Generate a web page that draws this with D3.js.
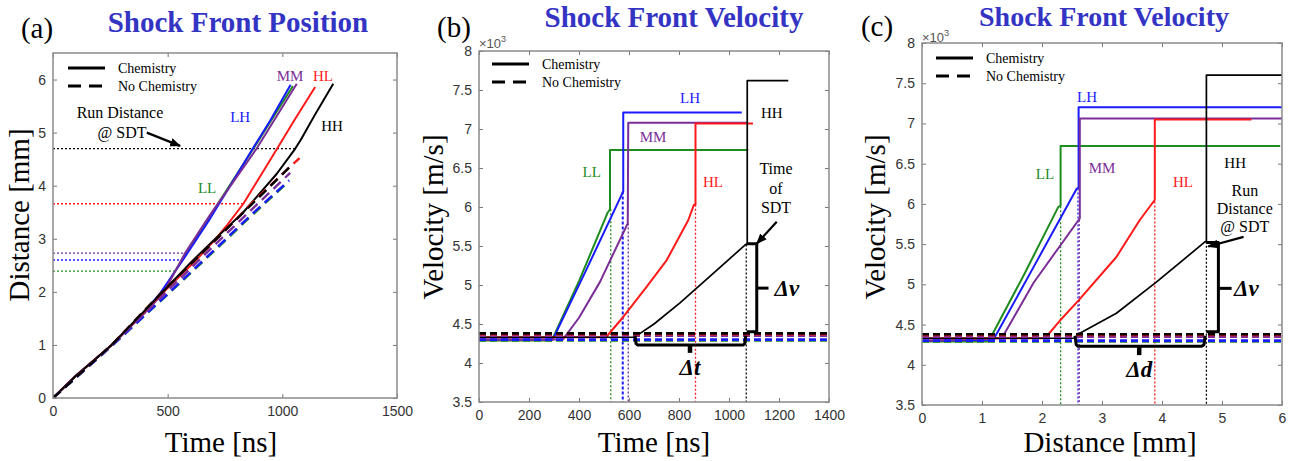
<!DOCTYPE html>
<html>
<head>
<meta charset="utf-8">
<script src="https://cdn.jsdelivr.net/npm/d3@7"></script>
<style>
  body { margin: 0; background: #fff; }
  svg text { font-family: "Liberation Serif", "Times New Roman", serif; }
</style>
</head>
<body>
<svg id="chart" width="1294" height="461"></svg>
<script>
// ---- data ----
const series = ["LL", "LH", "MM", "HL", "HH"];
const seriesColor = ["#1e8c1e", "#1a1aff", "#7b2d96", "#ff1a1a", "#000000"];

// (a) shock front position, [time ns, distance mm]
const posChemLL = [[0,0],[100,0.42],[256,1.0],[400,1.62],[470,1.95],[532,2.39],[600,2.86],[700,3.53],[880,4.74],[1046,5.88]];
const posChemLH = [[0,0],[100,0.42],[256,1.0],[400,1.63],[467,1.97],[568,2.61],[685,3.38],[780,4.05],[874,4.72],[946,5.22],[1036,5.9]];
const posChemMM = [[0,0],[100,0.42],[256,1.0],[400,1.6],[480,1.97],[576,2.73],[685,3.45],[888,4.7],[1063,5.92]];
const posChemHL = [[0,0],[100,0.42],[256,1.0],[490,2.03],[620,2.58],[700,2.95],[760,3.26],[830,3.66],[975,4.68],[1055,5.25],[1143,5.86]];
const posChemHH = [[0,0],[100,0.42],[256,1.0],[490,2.05],[600,2.55],[700,2.97],[830,3.5],[975,4.22],[1055,4.69],[1080,4.86],[1140,5.32],[1222,5.92]];
const posNoChemLL = [[0,0],[256,0.98],[510,1.99],[728,2.87],[859,3.41],[1026,4.07]];
const posNoChemLH = [[0,0],[256,0.98],[510,2.0],[728,2.89],[859,3.43],[1030,4.1]];
const posNoChemMM = [[0,0],[256,0.99],[495,2.0],[728,2.98],[866,3.55],[1034,4.24]];
const posNoChemHL = [[0,0],[256,1.0],[481,2.02],[600,2.52],[728,3.06],[874,3.7],[1034,4.36],[1075,4.52]];
const posNoChemHH = [[0,0],[256,1.0],[481,2.02],[600,2.52],[728,3.06],[874,3.68],[1034,4.36]];
const runDistance = [2.39, 2.60, 2.73, 3.66, 4.70];   // mm
const runDistanceTime = [532, 568, 576, 830, 1055];  // ns, end of dotted line

// (b) shock front velocity vs time, [time ns, velocity x10^3 m/s]
const velTimeLL = [[0,4.29],[291,4.29],[400,5.05],[515,5.93],[524,5.97],[524,6.73],[1077,6.73]];
const velTimeLH = [[0,4.30],[295,4.30],[430,5.2],[577,6.20],[577,7.21],[1051,7.21]];
const velTimeMM = [[0,4.30],[335,4.30],[400,4.58],[484,5.04],[595,5.79],[597,7.08],[1070,7.08]];
const velTimeHL = [[0,4.33],[508,4.33],[577,4.59],[671,4.98],[751,5.32],[837,5.83],[860,6.03],[866,6.03],[866,7.07],[1096,7.07]];
const velTimeHH = [[0,4.33],[624,4.33],[640,4.37],[700,4.5],[804,4.77],[937,5.15],[1067,5.52],[1073,5.53],[1073,7.62],[1237,7.62]];
const sdtTime = [527, 575, 597, 866, 1069];
const sdtTimeVel = [5.97, 6.20, 5.79, 6.03, 5.52];

// (c) shock front velocity vs distance, [distance mm, velocity x10^3 m/s]
const velDistLL = [[0,4.29],[1.11,4.29],[1.7,5.12],[2.27,5.96],[2.31,5.98],[2.31,6.72],[5.97,6.72]];
const velDistLH = [[0,4.30],[1.19,4.31],[1.9,5.27],[2.58,6.19],[2.61,6.2],[2.61,7.20],[6,7.20]];
const velDistMM = [[0,4.30],[1.33,4.33],[1.86,5.02],[2.61,5.80],[2.63,5.82],[2.63,7.06],[6,7.06]];
const velDistHL = [[0,4.33],[2.05,4.33],[2.3,4.55],[2.61,4.8],[3.24,5.34],[3.63,5.8],[3.86,6.03],[3.88,6.05],[3.88,7.05],[5.49,7.05]];
const velDistHH = [[0,4.33],[2.55,4.33],[2.6,4.38],[3.24,4.64],[3.91,5.03],[4.72,5.53],[4.74,5.53],[4.74,7.60],[6,7.60]];
const sdtDist = [2.31, 2.60, 2.62, 3.88, 4.74];
const sdtDistVel = [5.97, 6.19, 5.80, 6.03, 5.53];

// no chemistry: constant velocity
const noChemVel = [4.29, 4.30, 4.35, 4.37, 4.38];

// ticks
const ticksTimeA = [0, 500, 1000, 1500];
const ticksDistA = [0, 1, 2, 3, 4, 5, 6];
const ticksTimeB = [0, 200, 400, 600, 800, 1000, 1200, 1400];
const ticksDistC = [0, 1, 2, 3, 4, 5, 6];
const ticksVel = [3.5, 4, 4.5, 5, 5.5, 6, 6.5, 7, 7.5, 8];

const svg = d3.select("#chart");
const sans = '"Liberation Sans", Arial, sans-serif';
const title = "#3434c4";

function panel(cfg) {
  const x = d3.scaleLinear().domain(cfg.xDomain).range(cfg.xRange);
  const y = d3.scaleLinear().domain(cfg.yDomain).range(cfg.yRange);
  const g = svg.append("g");
  const [l, r] = cfg.xRange, [b, t] = cfg.yRange;
  const fmt = d3.format("~g");

  const axes = [
    [d3.axisBottom(x).tickValues(cfg.xTicks).tickFormat(fmt).tickPadding(8), `translate(0,${b})`],
    [d3.axisTop(x).tickValues(cfg.xTicks).tickFormat(""), `translate(0,${t})`],
    [d3.axisLeft(y).tickValues(cfg.yTicks).tickFormat(fmt).tickPadding(7), `translate(${l},0)`],
    [d3.axisRight(y).tickValues(cfg.yTicks).tickFormat(""), `translate(${r},0)`]
  ];
  axes.forEach(([ax, tr]) => {
    const a = g.append("g").attr("transform", tr)
      .call(ax.tickSize(-4).tickSizeOuter(0));
    a.attr("font-size", null).attr("font-family", null);
    a.select(".domain").remove();
    a.selectAll(".tick line").attr("stroke", "#777").attr("stroke-width", 1);
    a.selectAll(".tick text").style("font-family", sans).style("font-size", "14px").attr("fill", "#333");
  });

  const id = "clip" + cfg.name;
  g.append("clipPath").attr("id", id).append("rect")
    .attr("x", l).attr("y", t).attr("width", r - l).attr("height", b - t);
  const plot = g.append("g").attr("clip-path", `url(#${id})`);
  const over = g.append("g");

  return { g, x, y, plot, over, l, r, t, b };
}

function frame(p) {
  p.g.append("rect").attr("x", p.l).attr("y", p.t)
    .attr("width", p.r - p.l).attr("height", p.b - p.t)
    .attr("fill", "none").attr("stroke", "#8a8a8a").attr("stroke-width", 1.5);
}

function curve(p, data, color, width, dash) {
  const line = d3.line().x(d => p.x(d[0])).y(d => p.y(d[1]));
  p.plot.append("path").datum(data).attr("d", line)
    .attr("fill", "none").attr("stroke", color).attr("stroke-width", width)
    .attr("stroke-dasharray", dash || null).attr("stroke-linejoin", "round");
}

function legend(p, dx, dy) {
  const x0 = p.l + dx, y0 = p.t + dy;
  p.over.append("line").attr("x1", x0).attr("x2", x0 + 37).attr("y1", y0).attr("y2", y0)
    .attr("stroke", "#000").attr("stroke-width", 3);
  p.over.append("line").attr("x1", x0).attr("x2", x0 + 37).attr("y1", y0 + 18).attr("y2", y0 + 18)
    .attr("stroke", "#000").attr("stroke-width", 3).attr("stroke-dasharray", "13,8");
  p.over.append("text").attr("x", x0 + 50).attr("y", y0 + 5).attr("font-size", 14).text("Chemistry");
  p.over.append("text").attr("x", x0 + 50).attr("y", y0 + 23).attr("font-size", 14).text("No Chemistry");
}

function label(p, txt, xv, yv, color, size, anchor) {
  return p.over.append("text").attr("x", p.x(xv)).attr("y", p.y(yv)).attr("dy", "0.35em")
    .attr("text-anchor", anchor || "middle").attr("font-size", size || 15)
    .attr("fill", color || "#000").text(txt);
}

function thick(p, pts, w) {
  const line = d3.line().x(d => p.x(d[0])).y(d => p.y(d[1]));
  p.over.append("path").datum(pts).attr("d", line).attr("fill", "none")
    .attr("stroke", "#000").attr("stroke-width", w).attr("stroke-linejoin", "round");
}

function arrow(p, from, to) {
  p.over.append("line")
    .attr("x1", p.x(from[0])).attr("y1", p.y(from[1]))
    .attr("x2", p.x(to[0])).attr("y2", p.y(to[1]))
    .attr("stroke", "#000").attr("stroke-width", 2.2).attr("marker-end", "url(#arrowhead)");
}

function bigLabel(txt, x, y, size, opts) {
  const t = svg.append("text").attr("x", x).attr("y", y).attr("font-size", size)
    .attr("text-anchor", "middle").text(txt);
  if (opts && opts.rotate) t.attr("transform", `rotate(-90,${x},${y})`);
  if (opts && opts.bold) t.attr("font-weight", "bold");
  if (opts && opts.fill) t.attr("fill", opts.fill);
  return t;
}

svg.append("defs").append("marker").attr("id", "arrowhead")
  .attr("viewBox", "0 0 10 10").attr("refX", 9).attr("refY", 5)
  .attr("markerWidth", 5).attr("markerHeight", 5).attr("orient", "auto")
  .append("path").attr("d", "M0,1 L10,5 L0,9 Z").attr("fill", "#000");

// ================= (a) =================
const A = panel({ name: "A", xDomain: [0, 1500], xRange: [53, 397], yDomain: [0, 6.5], yRange: [398, 53],
  xTicks: ticksTimeA, yTicks: ticksDistA });

series.forEach((s, i) => {
  curve(A, [[0, runDistance[i]], [runDistanceTime[i], runDistance[i]]], seriesColor[i], 1.3, "2,2");
});
[posChemLL, posChemLH, posChemMM, posChemHL, posChemHH].forEach((d, i) => curve(A, d, seriesColor[i], 2));
[posNoChemHL, posNoChemLL, posNoChemLH, posNoChemMM, posNoChemHH].forEach((d, k) => {
  const i = [3, 0, 1, 2, 4][k];
  curve(A, d, seriesColor[i], 2.4, "10,6");
});
frame(A);
legend(A, 15, 15);
label(A, "MM", 1034, 6.07, seriesColor[2]);
label(A, "HL", 1177, 6.07, seriesColor[3]);
label(A, "LH", 816, 5.29, seriesColor[1]);
label(A, "HH", 1217, 5.12, seriesColor[4]);
label(A, "LL", 672, 3.97, seriesColor[0]);
label(A, "Run Distance", 292, 5.39, "#000", 16);
label(A, "@ SDT", 301, 5.0, "#000", 16);
arrow(A, [409, 5.0], [554, 4.75]);

// ================= (b) =================
const B = panel({ name: "B", xDomain: [0, 1400], xRange: [479, 829], yDomain: [3.5, 8], yRange: [402, 51],
  xTicks: ticksTimeB, yTicks: ticksVel });

series.forEach((s, i) => {
  curve(B, [[sdtTime[i], sdtTimeVel[i]], [sdtTime[i], 3.5]], seriesColor[i], i === 1 ? 2 : 1.3, i === 1 ? "3,2" : "2,2");
});
[velTimeLL, velTimeLH, velTimeMM, velTimeHL, velTimeHH].forEach((d, i) => curve(B, d, seriesColor[i], i === 4 ? 1.7 : 2));
series.forEach((s, i) => curve(B, [[0, noChemVel[i]], [1400, noChemVel[i]]], seriesColor[i], 2.6, "7,4"));
frame(B);
legend(B, 13, 13);
label(B, "LH", 844, 7.40, seriesColor[1]);
label(B, "HH", 1171, 7.21, seriesColor[4]);
label(B, "MM", 696, 6.90, seriesColor[2]);
label(B, "LL", 451, 6.45, seriesColor[0]);
label(B, "HL", 936, 6.32, seriesColor[3]);
label(B, "Time", 1188, 6.49, "#000", 16);
label(B, "of", 1188, 6.24, "#000", 16);
label(B, "SDT", 1188, 6.00, "#000", 16);
arrow(B, [1191, 5.81], [1111, 5.53]);
// delta t bracket
thick(B, [[624, 4.35], [628, 4.25], [634, 4.23], [1057, 4.23], [1063, 4.25], [1067, 4.35]], 3);
thick(B, [[844, 4.23], [844, 4.13]], 4.5);
label(B, "\u0394t", 844, 3.95, "#000", 23).attr("font-weight", "bold").attr("font-style", "italic");
// delta v bracket
thick(B, [[1071, 5.53], [1111, 5.53], [1111, 4.40], [1071, 4.40]], 3);
thick(B, [[1111, 4.96], [1158, 4.96]], 3);
label(B, "\u0394v", 1182, 4.96, "#000", 23, "start").attr("font-weight", "bold").attr("font-style", "italic");

// ================= (c) =================
const C = panel({ name: "C", xDomain: [0, 6], xRange: [922, 1282], yDomain: [3.5, 8], yRange: [405, 43],
  xTicks: ticksDistC, yTicks: ticksVel });

series.forEach((s, i) => {
  curve(C, [[sdtDist[i], sdtDistVel[i]], [sdtDist[i], 3.5]], seriesColor[i], 1.3, "2,2");
});
[velDistLL, velDistLH, velDistMM, velDistHL, velDistHH].forEach((d, i) => curve(C, d, seriesColor[i], i === 4 ? 1.7 : 2));
series.forEach((s, i) => curve(C, [[0, noChemVel[i]], [6, noChemVel[i]]], seriesColor[i], 2.6, "7,4"));
frame(C);
legend(C, 14, 15);
label(C, "LH", 2.75, 7.33, seriesColor[1]);
label(C, "LL", 2.05, 6.38, seriesColor[0]);
label(C, "MM", 3.0, 6.45, seriesColor[2]);
label(C, "HL", 4.35, 6.27, seriesColor[3]);
label(C, "HH", 5.22, 6.51, seriesColor[4]);
label(C, "Run", 5.38, 6.17, "#000", 16);
label(C, "Distance", 5.38, 5.95, "#000", 16);
label(C, "@ SDT", 5.38, 5.72, "#000", 16);
arrow(C, [5.36, 5.59], [4.77, 5.47]);
// delta d bracket
thick(C, [[2.55, 4.36], [2.57, 4.25], [2.6, 4.23], [4.66, 4.23], [4.70, 4.25], [4.72, 4.36]], 3);
thick(C, [[3.62, 4.23], [3.62, 4.12]], 4.5);
label(C, "\u0394d", 3.62, 3.95, "#000", 23).attr("font-weight", "bold").attr("font-style", "italic");
// delta v bracket
thick(C, [[4.74, 5.52], [4.94, 5.52], [4.94, 4.41], [4.74, 4.41]], 3);
thick(C, [[4.94, 4.95], [5.16, 4.95]], 3);
label(C, "\u0394v", 5.2, 4.95, "#000", 23, "start").attr("font-weight", "bold").attr("font-style", "italic");

// x10^3 multipliers
[[B, 44], [C, 38]].forEach(([p, yy]) => {
  const t = svg.append("text").attr("x", p.l).attr("y", yy + 4).style("font-family", sans)
    .attr("font-size", 13).attr("fill", "#555");
  t.append("tspan").text("\u00d710");
  t.append("tspan").attr("dy", -6).attr("font-size", 9).text("3");
});

// titles, panel letters, axis titles
bigLabel("Shock Front Position", 238, 32, 29, { bold: true, fill: title });
bigLabel("Shock Front Velocity", 674, 27, 29, { bold: true, fill: title });
bigLabel("Shock Front Velocity", 1104, 26, 28, { bold: true, fill: title });
bigLabel("(a)", 37, 38, 29);
bigLabel("(b)", 454, 37, 29);
bigLabel("(c)", 877, 36, 29);
bigLabel("Time [ns]", 221, 452, 29);
bigLabel("Time [ns]", 654, 452, 29);
bigLabel("Distance [mm]", 1110, 452, 29);
bigLabel("Distance [mm]", 29, 215, 29, { rotate: true });
bigLabel("Velocity [m/s]", 443, 217, 29, { rotate: true });
bigLabel("Velocity [m/s]", 885, 217, 29, { rotate: true });
</script>
</body>
</html>
